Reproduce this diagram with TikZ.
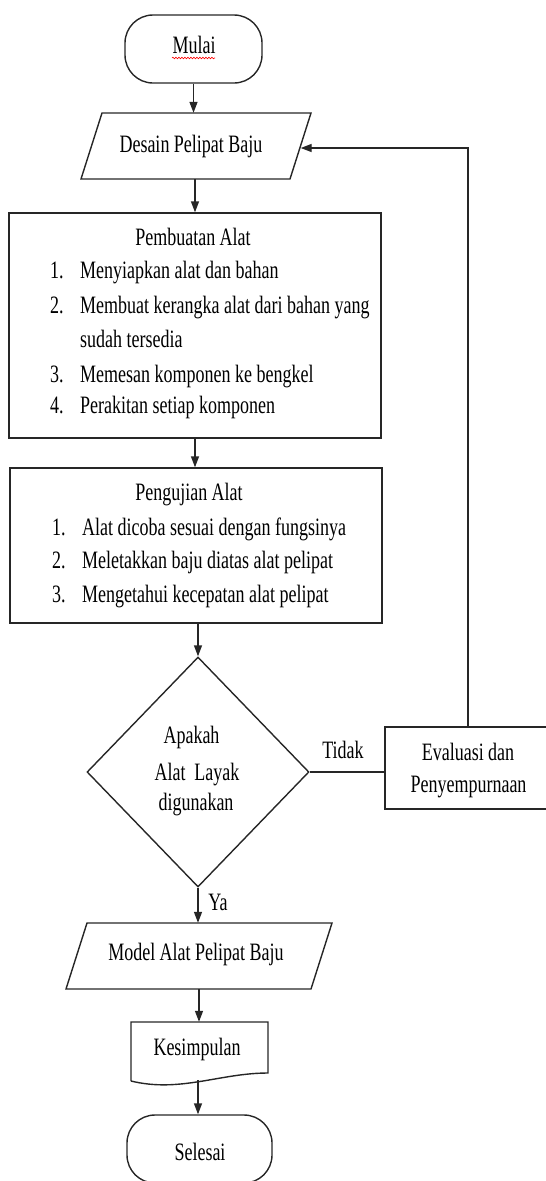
\documentclass[tikz,border=0pt]{standalone}
\usepackage{fontspec}
\setmainfont[FakeStretch=0.72]{Liberation Serif}
\usetikzlibrary{arrows.meta,shapes.geometric,decorations.pathmorphing}
\begin{document}
\begin{tikzpicture}[x=1pt,y=-1pt,
  ln/.style={draw=black!85, line width=1.4pt},
  arr/.style={ln, -{Triangle[length=11pt,width=8pt]}},
  box/.style={ln, rectangle, inner sep=0pt},
  term/.style={ln, rectangle, rounded corners=28pt, inner sep=0pt},
  paraarea/.style={rectangle, inner sep=0pt},
  dec/.style={ln, diamond, inner sep=0pt},
  txt/.style={font=\fontsize{25}{30}\selectfont, inner sep=0pt, anchor=base},
  txtw/.style={txt, anchor=base west},
]
\useasboundingbox (0,0) rectangle (546,1181);

% Mulai
\node[term, minimum width=137pt, minimum height=68pt] (mulai) at (193.5,49) {};
\node[txt] (tmulai) at (194,53) {Mulai};
\draw[red, line width=0.6pt, decorate, decoration={snake, amplitude=0.8pt, segment length=3pt}] (172,58) -- (215,58);

% Desain (parallelogram)
\node[paraarea, minimum width=209pt, minimum height=66pt] (desain) at (196,146) {};
\draw[ln] (81,179) -- (102,113) -- (311,113) -- (290,179) -- cycle;
\node[txt] (tdesain) at (191,152) {Desain Pelipat Baju};

% Pembuatan
\node[box, minimum width=372pt, minimum height=225pt] (buat) at (195,325.5) {};
\node[txt] (tbuat) at (193,245) {Pembuatan Alat};
\node[txtw] (b1n) at (50,278) {1.};
\node[txtw] (b1) at (80,278) {Menyiapkan alat dan bahan};
\node[txtw] (b2n) at (50,313) {2.};
\node[txtw] (b2) at (80,313) {Membuat kerangka alat dari bahan yang};
\node[txtw] (b2b) at (80,347) {sudah tersedia};
\node[txtw] (b3n) at (50,382) {3.};
\node[txtw] (b3) at (80,382) {Memesan komponen ke bengkel};
\node[txtw] (b4n) at (50,413) {4.};
\node[txtw] (b4) at (80,413) {Perakitan setiap komponen};

% Pengujian
\node[box, minimum width=372pt, minimum height=155pt] (uji) at (196,545.5) {};
\node[txt] (tuji) at (189,500) {Pengujian Alat};
\node[txtw] (u1n) at (52,535) {1.};
\node[txtw] (u1) at (82,535) {Alat dicoba sesuai dengan fungsinya};
\node[txtw] (u2n) at (52,568) {2.};
\node[txtw] (u2) at (82,568) {Meletakkan baju diatas alat pelipat};
\node[txtw] (u3n) at (52,602) {3.};
\node[txtw] (u3) at (82,602) {Mengetahui kecepatan alat pelipat};

% Decision
\node[dec, minimum width=222pt, minimum height=230pt] (cek) at (198,772) {};
\node[txt] (c1) at (191.5,743) {Apakah};
\node[txt] (c2) at (197,780) {Alat\ \ Layak};
\node[txt] (c3) at (196,810) {digunakan};

% Evaluasi
\node[box, minimum width=166pt, minimum height=82pt] (eval) at (468,768) {};
\node[txt] (e1) at (468,760) {Evaluasi dan};
\node[txt] (e2) at (468.5,792) {Penyempurnaan};

% labels
\node[txt] (ltidak) at (343,758) {Tidak};
\node[txt] (lya) at (218,910) {Ya};

% Model (parallelogram)
\node[paraarea, minimum width=245pt, minimum height=66pt] (model) at (199,956) {};
\draw[ln] (66,989) -- (87,923) -- (332,923) -- (311,989) -- cycle;
\node[txt] (tmodel) at (196,960) {Model Alat Pelipat Baju};

% Kesimpulan (document)
\node[inner sep=0pt, minimum width=137pt, minimum height=50pt] (kes) at (199.5,1047) {};
\draw[ln] (131,1081) -- (131,1022) -- (268,1022) -- (268,1073)
  .. controls (220,1073) and (180,1093) .. (131,1081);
\coordinate (kesb) at (198,1080);
\node[txt] (tkes) at (197,1055) {Kesimpulan};

% Selesai
\node[term, minimum width=145pt, minimum height=68pt] (selesai) at (199.5,1149) {};
\node[txt] (tsel) at (200,1160) {Selesai};

% connectors
\draw[arr] (mulai.south) -- (mulai.south |- desain.north);
\draw[arr] (desain.south -| buat.north) -- (buat.north);
\draw[arr] (buat.south) -- (buat.south |- uji.north);
\draw[arr] (uji.south -| cek.north) -- (cek.north);
\draw[arr] (cek.south) -- (cek.south |- model.north);
\draw[arr] (model.south) -- (model.south |- kes.north);
\draw[arr] (kesb) -- (kesb |- selesai.north);
\draw[ln] (cek.east) -- (cek.east -| eval.west);
\draw[arr] (eval.north) |- ([yshift=-2pt]desain.east);
\end{tikzpicture}
\end{document}
